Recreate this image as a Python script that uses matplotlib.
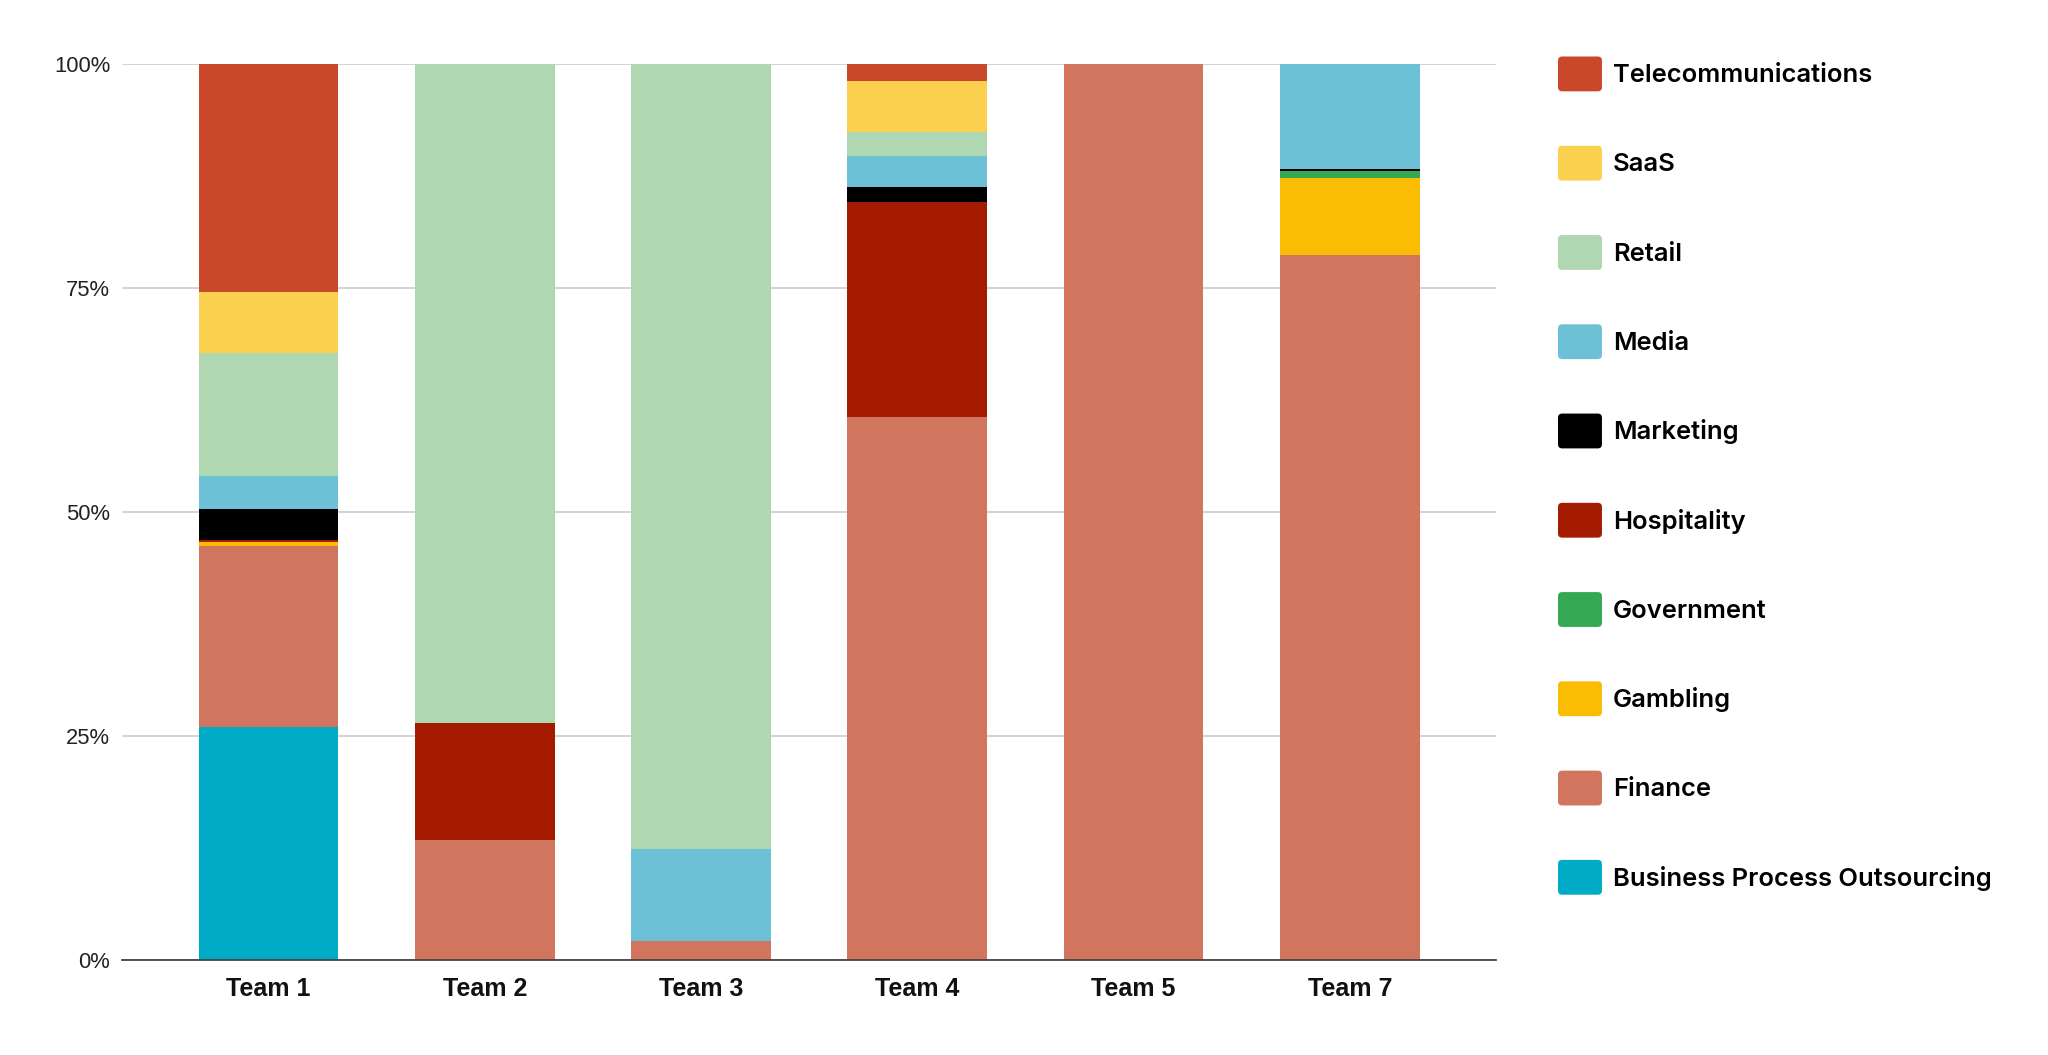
import numpy as np
import matplotlib.pyplot as plt
from matplotlib.patches import FancyBboxPatch
from matplotlib.legend_handler import HandlerPatch
from matplotlib.ticker import FuncFormatter

teams = ['Team 1', 'Team 2', 'Team 3', 'Team 4', 'Team 5', 'Team 7']

# stacked bottom -> top, shares in percent
industries = ['Business Process Outsourcing', 'Finance', 'Gambling', 'Government',
              'Hospitality', 'Marketing', 'Media', 'Retail', 'SaaS', 'Telecommunications']
bpo         = [26.0, 0, 0, 0, 0, 0]
finance     = [20.26, 13.4, 2.16, 60.6, 100, 78.67]
gambling    = [0.44, 0, 0, 0, 0, 8.64]
government  = [0, 0, 0, 0, 0, 0.81]
hospitality = [0.19, 13.09, 0, 24.03, 0, 0]
marketing   = [3.46, 0, 0, 1.67, 0, 0.19]
media       = [3.72, 0, 10.23, 3.46, 0, 11.69]
retail      = [13.7, 73.51, 87.61, 2.68, 0, 0]
saas        = [6.78, 0, 0, 5.7, 0, 0]
telecom     = [25.45, 0, 0, 1.86, 0, 0]

colors = ['#00acc5', '#d2755f', '#fbbc04', '#34a853', '#a51b00',
          '#000000', '#6cc1d6', '#afd8b2', '#fcd04f', '#c9472a']

series = [bpo, finance, gambling, government, hospitality,
          marketing, media, retail, saas, telecom]


class RoundHandler(HandlerPatch):
    def create_artists(self, legend, orig_handle, xdescent, ydescent,
                       width, height, fontsize, trans):
        p = FancyBboxPatch((-xdescent, -ydescent), width, height,
                           boxstyle='round,pad=0,rounding_size=3',
                           fc=orig_handle.get_facecolor(), ec='none',
                           transform=trans)
        return [p]


fig = plt.figure(figsize=(20.48, 10.55), dpi=100)
ax = fig.add_axes([0.0596, 0.090, 0.671, 0.849])

x = np.arange(len(teams))
bottom = np.zeros(len(teams))
handles = []
for name, vals, c in zip(industries, series, colors):
    vals = np.array(vals, dtype=float)
    b = ax.bar(x, vals, 0.646, bottom=bottom, color=c, linewidth=0,
               label=name, zorder=2)
    handles.append(b.patches[0])
    bottom += vals

ax.set_xlim(-0.677, 5.677)
ax.set_ylim(0, 100)
ax.set_yticks([0, 25, 50, 75, 100])
ax.yaxis.set_major_formatter(FuncFormatter(lambda v, p: f'{int(v)}%'))
ax.grid(axis='y', color='#cccccc', linewidth=1.2, zorder=0)
ax.set_axisbelow(True)
for s in ['top', 'right', 'left']:
    ax.spines[s].set_visible(False)
ax.spines['bottom'].set_color('#444444')
ax.spines['bottom'].set_linewidth(1.3)
ax.spines['bottom'].set_zorder(3)

ax.set_xticks(x)
ax.set_xticklabels(teams, fontfamily='Liberation Sans', fontweight='bold',
                   fontsize=18, color='#111111')
for lab in ax.get_yticklabels():
    lab.set_fontfamily('Liberation Sans')
    lab.set_fontsize(15.8)
    lab.set_color('#222222')
ax.tick_params(axis='y', length=0, pad=8.5)
ax.tick_params(axis='x', length=0, pad=12)

leg = fig.legend(handles[::-1], industries[::-1], loc='upper left',
                 bbox_to_anchor=(1558 / 2048, 1 - 56.5 / 1055),
                 frameon=False, borderaxespad=0, borderpad=0,
                 handler_map={h: RoundHandler() for h in handles},
                 handlelength=1.72, handleheight=1.72, handletextpad=0.42,
                 labelspacing=2.13,
                 prop={'family': 'Inter', 'weight': 'semibold', 'size': 18.4})

fig.savefig('out.png', dpi=100)
